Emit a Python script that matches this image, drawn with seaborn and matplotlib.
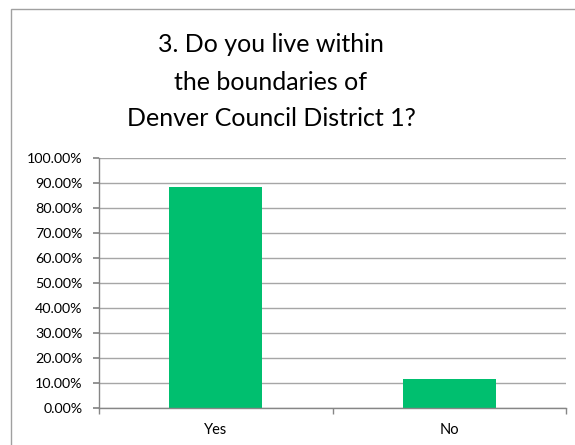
import matplotlib
matplotlib.use("Agg")
import matplotlib.pyplot as plt
import seaborn as sns
import pandas as pd
from matplotlib.ticker import FuncFormatter, FixedLocator
from matplotlib.patches import Rectangle

categories = ["Yes", "No"]
values = [0.884, 0.116]
title_lines = ["3. Do you live within", "the boundaries of", "Denver Council District 1?"]

sns.set_theme(style="white")
plt.rcParams['font.family'] = ['Lato', 'DejaVu Sans']

df = pd.DataFrame({"answer": categories, "share": values})

fig = plt.figure(figsize=(5.75, 4.45), dpi=100)
fig.patch.set_facecolor("white")
top = 1 - 9/445
fig.patches.append(Rectangle((11/575, top - 2), 2, 2, transform=fig.transFigure,
                             fill=False, edgecolor="#A0A0A0", linewidth=1.0))
ax = fig.add_axes([99/575, 37/445, 467/575, 250/445])

sns.barplot(data=df, x="answer", y="share", color="#00BF6F", saturation=1,
            width=0.4, ax=ax, edgecolor="none")

ax.set_ylim(0, 1.0)
ax.set_xlim(-0.5, 1.5)
ax.set_yticks([i / 10 for i in range(11)])
ax.yaxis.set_major_formatter(FuncFormatter(lambda v, p: f"{v*100:.2f}%"))
ax.yaxis.grid(True, color="#A6A6A6", linewidth=1.0)
ax.set_axisbelow(True)
ax.set_xlabel("")
ax.set_ylabel("")

for s in ["top", "right"]:
    ax.spines[s].set_visible(False)
for s in ["left", "bottom"]:
    ax.spines[s].set_color("#868686")
    ax.spines[s].set_linewidth(1.0)

ax.tick_params(axis="y", which="major", length=4, color="#868686", direction="out",
               left=True, pad=8, labelsize=10.3, labelcolor="black")
ax.tick_params(axis="x", which="major", length=0, pad=11, labelsize=10.5, labelcolor="black")
ax.xaxis.set_minor_locator(FixedLocator([-0.5, 0.5, 1.5]))
ax.tick_params(axis="x", which="minor", length=4, color="#868686", direction="out", bottom=True)

for i, line in enumerate(title_lines):
    fig.text(271/575, 1 - (45 + 37*i)/445, line, ha="center", va="center",
             fontsize=18, color="black")

fig.savefig("out.png", dpi=100, facecolor="white")
